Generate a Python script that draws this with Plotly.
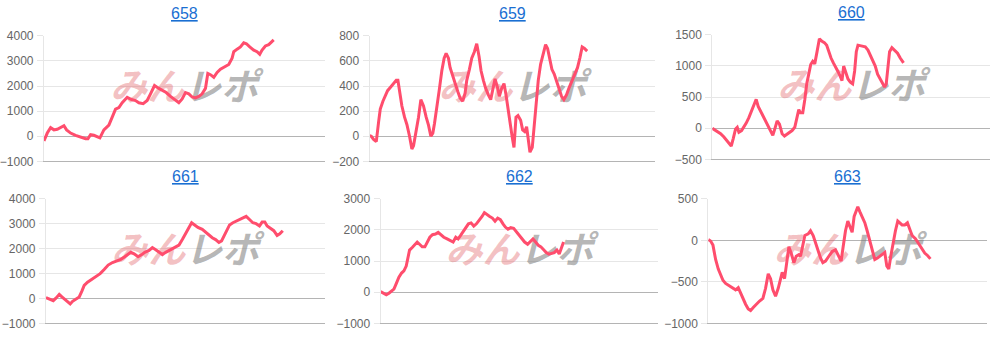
import plotly.graph_objects as go

# ---- data (x = games, y = coin difference) ----
titles = ["658", "659", "660", "661", "662", "663"]

x_max = [8430, 8590, 8350, 8380, 8350, 8370]
y_ranges = [[-1000, 4000], [-200, 800], [-500, 1500], [-1000, 4000], [-1000, 3000], [-1000, 500]]
y_dticks = [1000, 200, 500, 1000, 1000, 500]

x658 = [0, 50, 100, 200, 300, 400, 480, 600, 680, 800, 950, 1100, 1250, 1320, 1400, 1500, 1600, 1680,
        1800, 1950, 2050, 2150, 2250, 2350, 2500, 2630, 2750, 2850, 2980, 3100, 3200, 3320, 3450, 3550,
        3670, 3800, 3950, 4050, 4150, 4250, 4350, 4450, 4550, 4650, 4750, 4850, 4920, 5000, 5100, 5200,
        5300, 5420, 5550, 5650, 5700, 5800, 5900, 6000, 6080, 6180, 6300, 6400, 6480, 6550, 6650, 6750,
        6820, 6900]
y658 = [-190, 0, 127, 343, 254, 280, 343, 419, 254, 127, 38, -38, -100, -100, 63, 38, -20, -63,
        254, 444, 762, 1079, 1143, 1333, 1549, 1460, 1422, 1333, 1295, 1422, 1689, 2019, 1905, 1816,
        1740, 1587, 1435, 1333, 1486, 1740, 1689, 1562, 1524, 1587, 1689, 1905, 2502, 2451, 2349, 2540,
        2667, 2756, 2857, 3111, 3365, 3467, 3556, 3721, 3683, 3556, 3429, 3365, 3263, 3429, 3594, 3645,
        3746, 3835]

x659 = [0, 50, 120, 200, 270, 320, 400, 470, 540, 640, 720, 800, 850, 900, 970, 1050, 1120, 1200,
        1270, 1320, 1400, 1470, 1540, 1620, 1700, 1770, 1840, 1900, 1950, 2020, 2100, 2170, 2240, 2300,
        2370, 2420, 2490, 2570, 2650, 2720, 2800, 2870, 2920, 3000, 3070, 3150, 3220, 3290, 3350, 3420,
        3490, 3570, 3640, 3700, 3770, 3840, 3900, 3970, 4040, 4100, 4160, 4220, 4290, 4340, 4400, 4460,
        4540, 4600, 4660, 4720, 4760, 4820, 4890, 4950, 5000, 5070, 5140, 5220, 5290, 5350, 5420, 5480,
        5550, 5620, 5700, 5770, 5840, 5920, 5990, 6070, 6140, 6200, 6250, 6320, 6390, 6460, 6540]
y659 = [5, 0, -25, -43, 114, 216, 279, 318, 363, 394, 419, 445, 445, 363, 241, 152, 94, 0,
        -102, -76, 38, 152, 292, 241, 152, 89, 0, 25, 102, 216, 381, 521, 622, 660,
        622, 546, 483, 419, 356, 305, 279, 343, 445, 533, 622, 673, 737, 635, 521, 445,
        381, 330, 292, 368, 457, 394, 318, 381, 419, 330, 216, 89, -13, -89, 152, 165,
        127, 51, 38, 76, -13, -127, -89, 89, 267, 445, 572, 648, 729, 699, 610, 533,
        495, 432, 368, 318, 292, 330, 381, 432, 470, 508, 546, 622, 711, 699, 678, 648]

x660 = [0, 80, 150, 250, 350, 450, 530, 570, 630, 700, 750, 800, 880, 950, 1020, 1100, 1180, 1250,
        1320, 1380, 1450, 1530, 1600, 1680, 1750, 1820, 1880, 1950, 2020, 2100, 2170, 2250, 2320, 2400,
        2480, 2530, 2600, 2650, 2720, 2780, 2840, 2900, 2960, 3020, 3080, 3150, 3220, 3300, 3370, 3440,
        3500, 3570, 3640, 3700, 3770, 3840, 3900, 3950, 4020, 4080, 4150, 4220, 4280, 4330, 4380, 4450,
        4520, 4600, 4680, 4750, 4820, 4900, 4970, 5050, 5120, 5180, 5230, 5280, 5330, 5400, 5480, 5570,
        5650, 5750]
y660 = [0, -26, -52, -88, -140, -207, -269, -284, -165, -10, 16, -62, -36, 16, 83, 171, 274, 377,
        465, 352, 274, 196, 119, 41, -36, -114, -10, 119, 67, -88, -124, -88, -62, -36,
        16, 145, 300, 248, 248, 455, 713, 869, 1024, 1075, 1034, 1230, 1437, 1396, 1375, 1334,
        1230, 1127, 1049, 998, 920, 843, 765, 998, 894, 791, 739, 713, 920, 1230, 1334, 1324,
        1324, 1308, 1256, 1179, 1101, 998, 869, 791, 739, 662, 713, 1024, 1230, 1293, 1256, 1205,
        1127, 1049]

x661 = [0, 100, 220, 300, 400, 480, 570, 650, 730, 800, 900, 1000, 1080, 1150, 1250, 1370, 1500, 1630,
        1750, 1870, 2000, 2130, 2250, 2370, 2450, 2550, 2650, 2770, 2870, 2970, 3100, 3200, 3300, 3400,
        3500, 3600, 3700, 3800, 3900, 4000, 4100, 4200, 4280, 4380, 4470, 4570, 4700, 4800, 4900, 5000,
        5100, 5200, 5280, 5350, 5430, 5520, 5620, 5720, 5820, 5920, 6020, 6120, 6220, 6320, 6420, 6500,
        6580, 6650, 6750, 6850, 6950, 7030, 7120]
y661 = [38, -26, -89, 13, 166, 64, -26, -128, -217, -115, -26, 64, 294, 524, 651, 766, 868, 996,
        1162, 1341, 1443, 1507, 1571, 1673, 1762, 1852, 1788, 1673, 1750, 1852, 1928, 2043, 1954, 1864,
        1762, 1852, 1928, 1980, 2056, 2145, 2362, 2592, 2809, 3039, 2950, 2848, 2771, 2656, 2528, 2439,
        2362, 2248, 2311, 2490, 2720, 2950, 3039, 3103, 3167, 3256, 3295, 3167, 3039, 3001, 2911, 3065,
        3065, 2911, 2809, 2720, 2528, 2592, 2720]

x662 = [0, 80, 170, 250, 320, 400, 470, 550, 630, 700, 770, 820, 870, 950, 1030, 1100, 1170, 1250,
        1330, 1400, 1480, 1560, 1650, 1730, 1800, 1900, 2000, 2100, 2180, 2260, 2330, 2400, 2480, 2560,
        2640, 2720, 2800, 2880, 2960, 3050, 3120, 3200, 3280, 3360, 3440, 3520, 3600, 3680, 3750, 3830,
        3910, 4000, 4080, 4160, 4250, 4330, 4420, 4500, 4580, 4660, 4740, 4820, 4900, 4980, 5060, 5140,
        5220, 5300, 5370, 5430, 5500]
y662 = [21, -31, -82, -31, 41, 103, 277, 482, 616, 687, 841, 1149, 1354, 1436, 1539, 1611, 1539, 1457,
        1457, 1580, 1765, 1847, 1867, 1919, 1847, 1765, 1713, 1642, 1611, 1765, 1713, 1816, 1939, 2072,
        2196, 2226, 2124, 2196, 2298, 2432, 2555, 2483, 2432, 2380, 2278, 2380, 2329, 2196, 2093, 2021,
        2072, 2052, 1949, 1816, 1713, 1611, 1539, 1611, 1713, 1611, 1508, 1457, 1354, 1272, 1221, 1251,
        1272, 1354, 1231, 1405, 1611]

x663 = [0, 70, 140, 220, 300, 370, 440, 520, 620, 720, 820, 900, 970, 1040, 1120, 1200, 1270, 1350,
        1440, 1540, 1640, 1720, 1800, 1870, 1940, 2020, 2100, 2170, 2220, 2290, 2350, 2420, 2490, 2570,
        2640, 2720, 2770, 2820, 2900, 3000, 3070, 3150, 3220, 3300, 3370, 3440, 3520, 3620, 3720, 3820,
        3900, 3990, 4050, 4120, 4190, 4250, 4320, 4380, 4440, 4490, 4550, 4620, 4700, 4770, 4840, 4920,
        5000, 5080, 5160, 5240, 5300, 5360, 5420, 5480, 5550, 5620, 5690, 5750, 5820, 5900, 5980, 6040,
        6120, 6220, 6320, 6420, 6500, 6590, 6670]
y663 = [8, -8, -58, -231, -346, -423, -481, -519, -546, -569, -596, -569, -635, -692, -769, -827, -846, -808,
        -769, -731, -700, -577, -404, -461, -596, -673, -577, -461, -385, -461, -308, -77, -154, -269,
        -192, -173, -192, -77, 58, 77, 115, 58, -38, -135, -212, -269, -250, -192, -135, -115,
        -173, -250, -77, 115, 231, 173, 96, 288, 365, 404, 346, 288, 212, 115, 19, -115,
        -231, -212, -185, -162, -146, -308, -346, -192, -19, 115, 231, 212, 185, 185, 212, 146,
        58, 19, -38, -96, -154, -185, -223]

xs = [x658, x659, x660, x661, x662, x663]
ys = [y658, y659, y660, y661, y662, y663]

# ---- layout geometry (pixels -> paper fractions) ----
W, H = 998, 340
x_domains = [[43, 324], [369, 655], [712, 990], [45, 324], [380, 658], [708, 987]]
y_domains = [[30, 161], [30, 161], [29, 159], [200, 330], [200, 330], [200, 330]]

LINE = "#ff4d6d"
GRID = "#e6e6e6"
ZERO = "#b4b4b4"
TICKC = "#666666"
TITLEC = "#1a6fd2"

fig = go.Figure()
layout = dict(
    width=W, height=H, margin=dict(l=0, r=0, t=0, b=0),
    paper_bgcolor="white", plot_bgcolor="white", showlegend=False,
    font=dict(family="Liberation Sans, Arial, sans-serif", size=12, color=TICKC),
)
annotations = []
for i in range(6):
    n = "" if i == 0 else str(i + 1)
    xd = [x_domains[i][0] / W, x_domains[i][1] / W]
    yd = [(H - y_domains[i][1]) / H, (H - y_domains[i][0]) / H]
    ax_x = "x" + n
    ax_y = "y" + n
    layout["xaxis" + n] = dict(
        domain=xd, range=[0, x_max[i]], anchor=ax_y, showgrid=False, zeroline=False,
        showticklabels=False, ticks="", showline=True, linecolor=ZERO, linewidth=1,
        side="bottom", fixedrange=True,
    )
    layout["yaxis" + n] = dict(
        domain=yd, range=y_ranges[i], dtick=y_dticks[i], anchor=ax_x,
        showgrid=True, gridcolor=GRID, gridwidth=1,
        zeroline=True, zerolinecolor=ZERO, zerolinewidth=1,
        showline=True, linecolor=GRID, linewidth=1,
        ticks="outside", ticklen=6, tickcolor=GRID, ticklabelstandoff=1,
        tickfont=dict(size=12, color=TICKC), fixedrange=True,
    )
    # watermark (drawn under the line)
    wx = x_max[i] * 0.5
    wy = y_ranges[i][0] + (y_ranges[i][1] - y_ranges[i][0]) * 0.56
    fig.add_trace(go.Scatter(
        x=[wx], y=[wy], mode="text", xaxis=ax_x, yaxis=ax_y, hoverinfo="skip",
        text=['<span style="color:rgba(225,90,95,0.38)"><b><i>みん</i></b></span>'
              '<span style="color:rgba(120,120,120,0.55)"><b><i>レポ</i></b></span>'],
        textfont=dict(family="Noto Sans CJK JP", size=37),
        textposition="middle center",
    ))
    fig.add_trace(go.Scatter(
        x=xs[i], y=ys[i], mode="lines", xaxis=ax_x, yaxis=ax_y,
        line=dict(color=LINE, width=3), hoverinfo="skip",
    ))
    annotations.append(dict(
        text="<u>" + titles[i] + "</u>", xref="paper", yref="paper",
        x=(xd[0] + xd[1]) / 2, y=yd[1] + 23 / H, xanchor="center", yanchor="middle",
        showarrow=False, font=dict(size=16, color=TITLEC),
    ))
layout["annotations"] = annotations
fig.update_layout(**layout)
fig.write_html("out.html")
